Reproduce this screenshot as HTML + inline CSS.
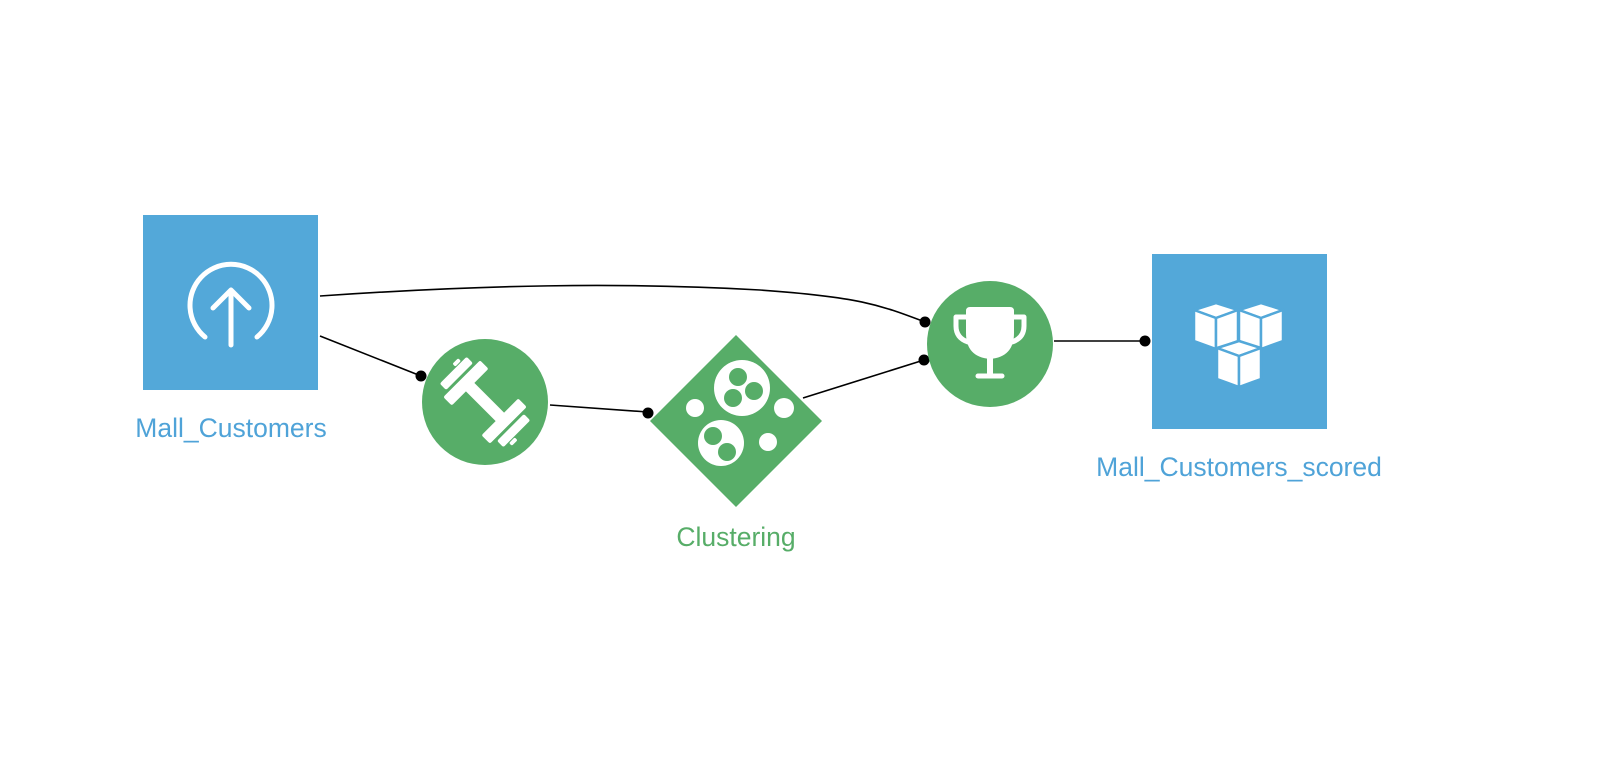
<!DOCTYPE html>
<html><head><meta charset="utf-8"><style>
html,body{margin:0;padding:0;background:#fff;}
svg{display:block;}
text{font-family:"Liberation Sans",sans-serif;font-size:26.5px;}
</style></head><body>
<svg width="1616" height="774" viewBox="0 0 1616 774" xmlns="http://www.w3.org/2000/svg">
<g stroke="#000" stroke-width="1.6" fill="none">
<path d="M320 296 C 480 285, 620 282, 760 290 C 860 297, 880 305, 925 322"/>
<line x1="320" y1="336" x2="421" y2="376"/>
<line x1="550" y1="405" x2="648" y2="412"/>
<line x1="803" y1="398" x2="924" y2="360"/>
<line x1="1054" y1="341" x2="1145" y2="341"/>
</g>
<g fill="#000">
<circle cx="925" cy="322" r="5.5"/>
<circle cx="421" cy="376" r="5.5"/>
<circle cx="648" cy="413" r="5.5"/>
<circle cx="924" cy="360" r="5.5"/>
<circle cx="1145" cy="341" r="5.5"/>
</g>
<rect x="143" y="215" width="175" height="175" fill="#53a8d9"/>
<path d="M205 337 A41 41 0 1 1 257 337" stroke="#fff" stroke-width="5" fill="none" stroke-linecap="round"/>
<path d="M231 345 V290 M213 308 L231 290 L249 308" stroke="#fff" stroke-width="5" fill="none" stroke-linecap="round" stroke-linejoin="round"/>
<text x="231" y="437" text-anchor="middle" fill="#4fa3d8">Mall_Customers</text>
<circle cx="485" cy="402" r="63" fill="#57ad68"/>
<g transform="translate(485 402) rotate(45)" fill="#fff">
<rect x="-22" y="-6" width="44" height="12"/>
<rect x="-33" y="-26" width="12" height="52" rx="2"/>
<rect x="21" y="-26" width="12" height="52" rx="2"/>
<rect x="-45" y="-19" width="9" height="38" rx="2"/>
<rect x="36" y="-19" width="9" height="38" rx="2"/>
<rect x="-50" y="-12" width="4" height="8" rx="1.5"/>
<rect x="46" y="4" width="4" height="8" rx="1.5"/>
</g>
<polygon points="736,335 822,421 736,507 650,421" fill="#57ad68"/>
<g fill="#fff">
<circle cx="742" cy="388" r="28"/>
<circle cx="721" cy="443" r="23"/>
<circle cx="695" cy="408" r="9"/>
<circle cx="784" cy="408" r="10"/>
<circle cx="768" cy="442" r="9"/>
</g>
<g fill="#57ad68">
<circle cx="738" cy="377" r="9"/>
<circle cx="754" cy="391" r="9"/>
<circle cx="733" cy="398" r="9"/>
<circle cx="713" cy="436" r="9"/>
<circle cx="727" cy="452" r="9"/>
</g>
<text x="736" y="546" text-anchor="middle" fill="#57ad68">Clustering</text>
<circle cx="990" cy="344" r="63" fill="#57ad68"/>
<g fill="none" stroke="#fff" stroke-width="5" stroke-linejoin="round" stroke-linecap="round">
<path d="M956 317 H966 M1014 317 H1024 M956 317 V326 Q956 338 968 342 M1024 317 V326 Q1024 338 1012 342"/>
<path d="M978 376 H1002"/>
</g>
<path d="M970 307 H1010 Q1014 307 1014 311 V333 Q1014 357 990 359 Q966 357 966 333 V311 Q966 307 970 307 Z" fill="#fff"/>
<rect x="987" y="356" width="6" height="20" fill="#fff"/>
<rect x="1152" y="254" width="175" height="175" fill="#53a8d9"/>
<g fill="#fff" stroke="#53a8d9" stroke-width="2.5" stroke-linejoin="round">
<g transform="translate(1194 303)"><polygon points="22,0 44,7 22,15 0,7"/><polygon points="0,7 22,15 22,46 0,38"/><polygon points="22,15 44,7 44,38 22,46"/></g>
<g transform="translate(1239 303)"><polygon points="22,0 44,7 22,15 0,7"/><polygon points="0,7 22,15 22,46 0,38"/><polygon points="22,15 44,7 44,38 22,46"/></g>
<g transform="translate(1217 341)"><polygon points="22,0 44,7 22,15 0,7"/><polygon points="0,7 22,15 22,46 0,38"/><polygon points="22,15 44,7 44,38 22,46"/></g>
</g>
<text x="1239" y="476" text-anchor="middle" fill="#4fa3d8">Mall_Customers_scored</text>
</svg>
</body></html>
